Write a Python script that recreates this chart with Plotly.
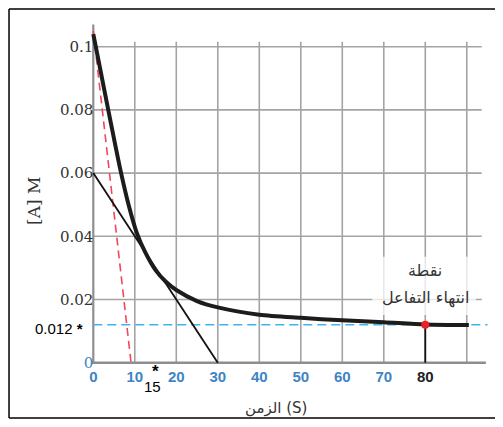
"""Concentration of A vs time, with initial-rate and instantaneous tangents."""

import plotly.graph_objects as go

# curve
time_s = [0, 1.8, 3.6, 5.2, 6.7, 8.5, 10.5, 12.5, 15, 17.5, 20, 25, 30, 40, 50, 60, 70, 80, 90.5]
conc_a = [0.104, 0.092, 0.080, 0.0695, 0.060, 0.050, 0.041, 0.035, 0.0293, 0.0256,
          0.023, 0.0195, 0.0175, 0.0152, 0.0142, 0.0134, 0.0128, 0.0121, 0.0119]

# tangent lines
initial_x = [0, 9.1]
initial_y = [0.105, 0]
tangent_x = [0, 30]
tangent_y = [0.06, 0]

# end of reaction
end_time = 80
end_conc = 0.012
end_line_x = [0, 95]

x_ticks = [0, 10, 20, 30, 40, 50, 60, 70, 80, 90]
x_labels = ["0", "10", "20", "30", "40", "50", "60", "70", "80"]
y_ticks = [0, 0.02, 0.04, 0.06, 0.08, 0.1]
y_labels = ["0", "0.02", "0.04", "0.06", "0.08", "0.1"]

BLUE = "#3f84c5"
GRID = "#a4a4a4"
AXIS = "#8e8e8e"

fig = go.Figure()

# grid drawn as shapes so it stops where the printed grid stops
for xv in x_ticks[1:]:
    fig.add_shape(type="line", x0=xv, x1=xv, y0=0, y1=0.1016, xref="x", yref="y",
                  line=dict(color=GRID, width=1.6), layer="below")
for yv in y_ticks[1:]:
    fig.add_shape(type="line", x0=0, x1=93.6, y0=yv, y1=yv, xref="x", yref="y",
                  line=dict(color=GRID, width=1.6), layer="below")
# faded box behind the arabic label
fig.add_shape(type="rect", x0=67.2, x1=92.2, y0=0.0151, y1=0.0335, xref="x", yref="y",
              fillcolor="rgba(255,255,255,0.75)", line_width=0, layer="below")
# axis lines
fig.add_shape(type="line", x0=0, x1=0, y0=0, y1=0.107, xref="x", yref="y",
              line=dict(color=AXIS, width=2.2), layer="below")
fig.add_shape(type="line", x0=-0.3, x1=94.6, y0=0, y1=0, xref="x", yref="y",
              line=dict(color=AXIS, width=2.6), layer="below")

fig.add_trace(go.Scatter(x=end_line_x, y=[end_conc, end_conc], mode="lines",
                         line=dict(color="#3cb6ea", width=1.6, dash="9px,5px")))
fig.add_trace(go.Scatter(x=initial_x, y=initial_y, mode="lines",
                         line=dict(color="#f0485a", width=1.6, dash="8px,5px")))
fig.add_trace(go.Scatter(x=tangent_x, y=tangent_y, mode="lines",
                         line=dict(color="#111111", width=1.8)))
fig.add_trace(go.Scatter(x=[end_time, end_time], y=[0, end_conc], mode="lines",
                         line=dict(color="#111111", width=1.8)))
fig.add_trace(go.Scatter(x=time_s, y=conc_a, mode="lines",
                         line=dict(color="#1c1c1c", width=4, shape="spline", smoothing=0.8)))
fig.add_trace(go.Scatter(x=[end_time], y=[end_conc], mode="markers",
                         marker=dict(color="#ee2222", size=8)))

x_text = [f'<span style="color:{BLUE}">{t}</span>' if t != "80" else
          f'<span style="color:#222222">{t}</span>' for t in x_labels]
y_text = [f'<span style="color:{BLUE}">{t}</span>' if t == "0" else t for t in y_labels]

# text annotations
fig.add_annotation(x=-2.0, y=end_conc, xref="x", yref="y", text="0.012 <b>*</b>",
                   showarrow=False, xanchor="right", yanchor="middle", yshift=-4,
                   font=dict(family="Liberation Sans", size=15, color="#000000"))
fig.add_annotation(x=15, y=0, xref="x", yref="y", text="<b>*</b>", showarrow=False,
                   yshift=-9, font=dict(family="Liberation Sans", size=17, color="#000000"))
fig.add_annotation(x=14.3, y=0, xref="x", yref="y", text="15", showarrow=False,
                   yshift=-24, font=dict(family="Liberation Sans", size=15, color="#000000"))
fig.add_annotation(x=80, y=0.0293, xref="x", yref="y", text="نقطة", showarrow=False,
                   font=dict(family="DejaVu Sans", size=16, color="#333333"))
fig.add_annotation(x=80, y=0.0204, xref="x", yref="y", text="انتهاء التفاعل", showarrow=False,
                   font=dict(family="DejaVu Sans", size=16, color="#333333"))
fig.add_annotation(x=-0.0874, y=0.4796, xref="paper", yref="paper", text="[A] M",
                   textangle=-90, showarrow=False,
                   font=dict(family="DejaVu Serif", size=17, color="#333333"))
fig.add_annotation(x=0.4966, y=-0.1144, xref="paper", yref="paper", text="الزمن (S)",
                   showarrow=False, font=dict(family="DejaVu Sans", size=15, color="#333333"))

# frame round the picture: top, left and bottom only
frame = dict(xref="paper", yref="paper", line=dict(color="#000000", width=1.5))
fig.add_shape(type="line", x0=-0.1172, x1=1.0, y0=1.0027, y1=1.0027, **frame)
fig.add_shape(type="line", x0=-0.1172, x1=-0.1172, y0=-0.1117, y1=1.0027, **frame)
fig.add_shape(type="line", x0=-0.1172, x1=1.0, y0=-0.1117, y1=-0.1117, **frame)

# the page adds an 8px body margin all round, so the figure is 16px smaller than the window
fig.update_layout(
    width=487,
    height=411,
    margin=dict(l=52, r=0, t=2, b=42),
    paper_bgcolor="white",
    plot_bgcolor="white",
    showlegend=False,
    xaxis=dict(range=[-8.024, 96.80], tickvals=x_ticks[:len(x_labels)], ticktext=x_text,
               showgrid=False, zeroline=False, showline=False, ticks="",
               anchor="free", position=0.03896, ticklabelstandoff=3,
               tickfont=dict(family="Liberation Sans", size=15, weight="bold")),
    yaxis=dict(range=[-0.004525, 0.11161], tickvals=y_ticks, ticktext=y_text,
               showgrid=False, zeroline=False, showline=False, ticks="",
               anchor="free", position=0.07655,
               tickfont=dict(family="DejaVu Serif", size=15, color="#333333")),
)

fig.write_html("out.html")
